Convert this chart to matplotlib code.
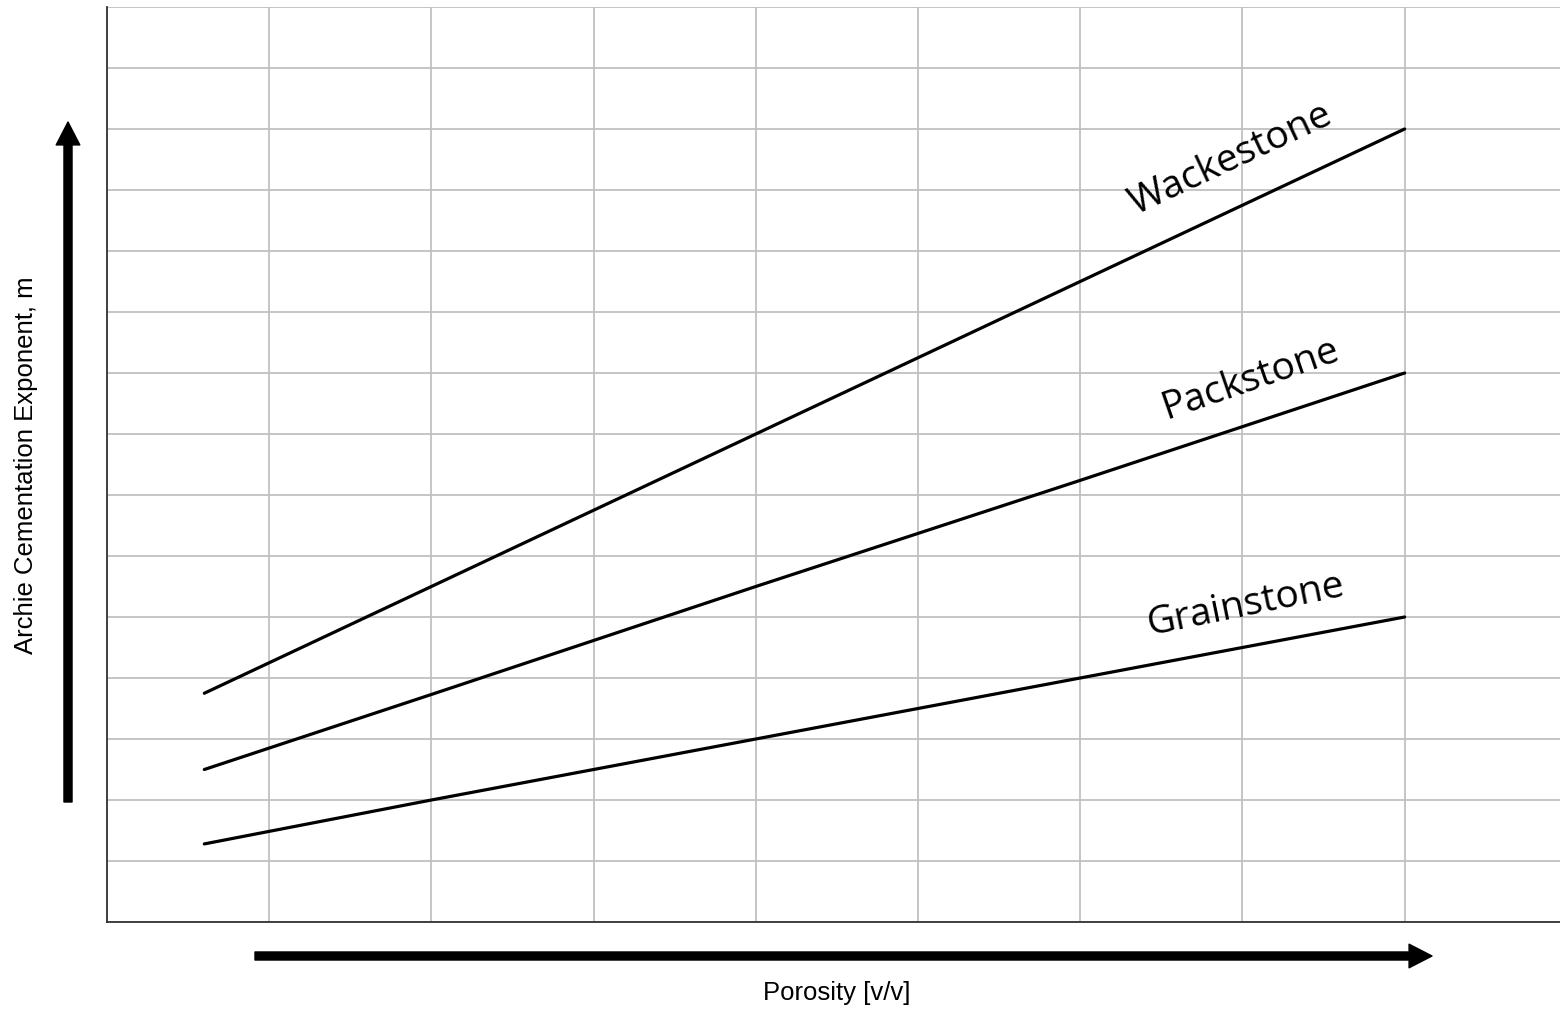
import matplotlib
matplotlib.use("Agg")
import matplotlib.pyplot as plt

# porosity positions (arbitrary grid units) and m-trend for each rock type
porosity = [0.6, 2, 4, 6, 8]
wackestone = [3.75, 5.5, 8.0, 10.5, 13.0]
packstone = [2.5, 3.73, 5.5, 7.24, 9.0]
grainstone = [1.28, 2.0, 3.0, 4.0, 5.0]
labels = ["Wackestone", "Packstone", "Grainstone"]

fig = plt.figure(figsize=(15.6, 10.11), dpi=100)
ax = fig.add_axes([107/1560, 89/1011, 1 - 107/1560, (922-7)/1011])

for y in (wackestone, packstone, grainstone):
    ax.plot(porosity, y, color="black", lw=2.3, solid_capstyle="round")

ax.set_xlim(0, 1453/162.2)
ax.set_ylim(0, 15)
ax.set_xticks(range(0, 9))
ax.set_yticks(range(0, 16))
ax.tick_params(length=0, labelbottom=False, labelleft=False)
ax.grid(True, color="#c0c0c0", lw=1.3)
ax.set_axisbelow(True)
for s in ("top", "right"):
    ax.spines[s].set_visible(False)
for s in ("left", "bottom"):
    ax.spines[s].set_color("#333333")
    ax.spines[s].set_linewidth(1.3)

# rock type labels along the lines
for lab, (x, y, rot) in zip(labels, [(6.93, 12.5, 25), (7.05, 8.9, 19), (7.02, 5.2, 11.5)]):
    ax.text(x, y, lab, fontsize=28, family="Open Sans", rotation=rot,
            rotation_mode="anchor", ha="center", va="center")

# direction arrows outside the axes
arr = dict(width=5.8, headwidth=17, headlength=16.5, color="black", shrink=0)
ax.annotate("", xy=(1432, 55), xytext=(255, 55), xycoords="figure pixels",
            textcoords="figure pixels", arrowprops=arr, annotation_clip=False)
ax.annotate("", xy=(68, 889), xytext=(68, 209), xycoords="figure pixels",
            textcoords="figure pixels", arrowprops=arr, annotation_clip=False)

fig.text(837/1560, 1 - 993/1011, "Porosity [v/v]", fontsize=18.5, family="Liberation Sans",
         ha="center", va="center")
fig.text(26/1560, 1 - 465/1011, "Archie Cementation Exponent, m", fontsize=18.5,
         family="Liberation Sans", rotation=90, ha="center", va="center")

fig.savefig("out.png", dpi=100, facecolor="white")
